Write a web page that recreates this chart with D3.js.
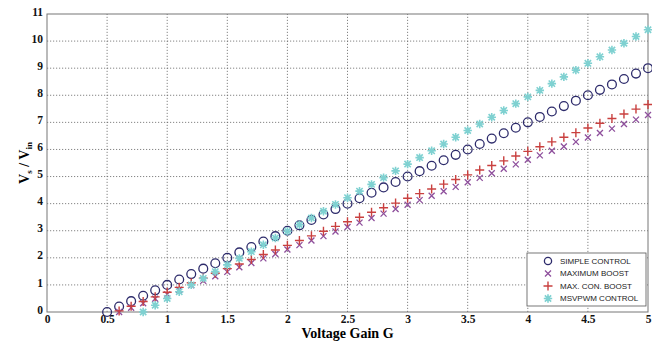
<!DOCTYPE html>
<html>
<head>
<meta charset="utf-8">
<script src="https://d3js.org/d3.v7.min.js"></script>
<style>
  body { margin: 0; background: #fff; }
  svg { display: block; }
  .tick text { font-family: "Liberation Serif", "DejaVu Serif", serif; font-weight: bold; font-size: 11.5px; fill: #111; }
  .legend text { font-family: "Liberation Sans", Arial, sans-serif; font-size: 8px; fill: #222; }
</style>
</head>
<body>
<div id="chart"></div>
<script>
// voltage gain G (x) for each series
var gSimple = [0.5,0.6,0.7,0.8,0.9,1.0,1.1,1.2,1.3,1.4,1.5,1.6,1.7,1.8,1.9,2.0,2.1,2.2,2.3,2.4,2.5,2.6,2.7,2.8,2.9,3.0,3.1,3.2,3.3,3.4,3.5,3.6,3.7,3.8,3.9,4.0,4.1,4.2,4.3,4.4,4.5,4.6,4.7,4.8,4.9,5.0];
var gBoost = [0.6,0.7,0.8,0.9,1.0,1.1,1.2,1.3,1.4,1.5,1.6,1.7,1.8,1.9,2.0,2.1,2.2,2.3,2.4,2.5,2.6,2.7,2.8,2.9,3.0,3.1,3.2,3.3,3.4,3.5,3.6,3.7,3.8,3.9,4.0,4.1,4.2,4.3,4.4,4.5,4.6,4.7,4.8,4.9,5.0];
var gMsv = [0.8,0.9,1.0,1.1,1.2,1.3,1.4,1.5,1.6,1.7,1.8,1.9,2.0,2.1,2.2,2.3,2.4,2.5,2.6,2.7,2.8,2.9,3.0,3.1,3.2,3.3,3.4,3.5,3.6,3.7,3.8,3.9,4.0,4.1,4.2,4.3,4.4,4.5,4.6,4.7,4.8,4.9,5.0];

// Vs/Vin values
var simpleControl = [0,0.2,0.4,0.6,0.8,1.0,1.2,1.4,1.6,1.8,2.0,2.2,2.4,2.6,2.8,3.0,3.2,3.4,3.6,3.8,4.0,4.2,4.4,4.6,4.8,5.0,5.2,5.4,5.6,5.8,6.0,6.2,6.4,6.6,6.8,7.0,7.2,7.4,7.6,7.8,8.0,8.2,8.4,8.6,8.8,9.0];
var maximumBoost = [0,0.16,0.32,0.49,0.65,0.82,0.99,1.15,1.32,1.48,1.65,1.81,1.98,2.14,2.31,2.47,2.64,2.80,2.97,3.14,3.30,3.47,3.63,3.80,3.96,4.13,4.29,4.46,4.62,4.79,4.95,5.12,5.29,5.45,5.62,5.78,5.95,6.11,6.28,6.44,6.61,6.77,6.94,7.10,7.27];
var maxConBoost = [0.04,0.21,0.39,0.56,0.73,0.91,1.08,1.25,1.43,1.60,1.77,1.94,2.12,2.29,2.46,2.64,2.81,2.98,3.16,3.33,3.50,3.68,3.85,4.02,4.20,4.37,4.54,4.72,4.89,5.06,5.24,5.41,5.58,5.76,5.93,6.10,6.28,6.45,6.62,6.79,6.97,7.14,7.31,7.49,7.66];
var msvpwm = [0,0.25,0.5,0.75,1.0,1.24,1.49,1.74,1.98,2.23,2.48,2.73,2.98,3.22,3.47,3.72,3.97,4.22,4.46,4.71,4.96,5.21,5.46,5.70,5.95,6.20,6.45,6.70,6.94,7.19,7.44,7.69,7.94,8.18,8.43,8.68,8.93,9.18,9.42,9.67,9.92,10.17,10.42];

var xTicks = [0,0.5,1,1.5,2,2.5,3,3.5,4,4.5,5];
var yTicks = [0,1,2,3,4,5,6,7,8,9,10,11];
var legendNames = ["SIMPLE CONTROL","MAXIMUM BOOST","MAX. CON. BOOST","MSVPWM CONTROL"];

var width = 652, height = 345;
var margin = {top: 14, right: 4, bottom: 33, left: 47};

var x = d3.scaleLinear().domain([0, 5]).range([margin.left, width - margin.right]);
var y = d3.scaleLinear().domain([0, 11]).range([height - margin.bottom, margin.top]);

var svg = d3.select("#chart").append("svg")
    .attr("width", width)
    .attr("height", height);

// grid
svg.append("g")
    .selectAll("line")
    .data(xTicks.slice(1, -1))
    .enter().append("line")
    .attr("x1", function(d) { return x(d); })
    .attr("x2", function(d) { return x(d); })
    .attr("y1", y(0)).attr("y2", y(11))
    .attr("stroke", "#666").attr("stroke-width", 0.8)
    .attr("stroke-dasharray", "1.2,1.8");

svg.append("g")
    .selectAll("line")
    .data(yTicks.slice(1, -1))
    .enter().append("line")
    .attr("x1", x(0)).attr("x2", x(5))
    .attr("y1", function(d) { return y(d); })
    .attr("y2", function(d) { return y(d); })
    .attr("stroke", "#666").attr("stroke-width", 0.8)
    .attr("stroke-dasharray", "1.2,1.8");

// frame
svg.append("rect")
    .attr("x", x(0)).attr("y", y(11))
    .attr("width", x(5) - x(0)).attr("height", y(0) - y(11))
    .attr("fill", "none").attr("stroke", "#777").attr("stroke-width", 1);

// axes
var xAxis = svg.append("g")
    .attr("transform", "translate(0," + y(0) + ")")
    .call(d3.axisBottom(x).tickValues(xTicks).tickSize(0).tickPadding(3)
      .tickFormat(function(d) { return d; }));
xAxis.select(".domain").remove();

var yAxis = svg.append("g")
    .attr("transform", "translate(" + x(0) + ",0)")
    .call(d3.axisLeft(y).tickValues(yTicks).tickSize(0).tickPadding(4));
yAxis.select(".domain").remove();
yAxis.selectAll(".tick text").attr("dy", "0.1em");

// axis titles
svg.append("text")
    .attr("x", (x(0) + x(5)) / 2)
    .attr("y", 338)
    .attr("text-anchor", "middle")
    .style("font-family", "'Liberation Serif', serif")
    .style("font-weight", "bold")
    .style("font-size", "14px")
    .text("Voltage Gain G");

var yl = svg.append("text")
    .attr("transform", "translate(29," + (y(0) + y(11)) / 2 + ") rotate(-90)")
    .attr("text-anchor", "middle")
    .style("font-family", "'Liberation Serif', serif")
    .style("font-weight", "bold")
    .style("font-size", "14px");
yl.append("tspan").text("V");
yl.append("tspan").attr("dy", 3).style("font-size", "9px").text("s");
yl.append("tspan").attr("dy", -3).text(" / V");
yl.append("tspan").attr("dy", 3).style("font-size", "9px").text("in");

// markers
var colors = ["#2d2b6b", "#8e4f9c", "#c9403f", "#7fd1d1"];

function drawCircle(g, cx, cy, r) {
  g.append("circle").attr("cx", cx).attr("cy", cy).attr("r", r || 4.4)
    .attr("fill", "none").attr("stroke", colors[0]).attr("stroke-width", 1.3);
}
function drawX(g, cx, cy) {
  var s = 3;
  g.append("path")
    .attr("d", "M" + (cx - s) + "," + (cy - s) + "L" + (cx + s) + "," + (cy + s) +
               "M" + (cx - s) + "," + (cy + s) + "L" + (cx + s) + "," + (cy - s))
    .attr("stroke", colors[1]).attr("stroke-width", 1.3);
}
function drawPlus(g, cx, cy) {
  var s = 4.5;
  g.append("path")
    .attr("d", "M" + (cx - s) + "," + cy + "L" + (cx + s) + "," + cy +
               "M" + cx + "," + (cy - s) + "L" + cx + "," + (cy + s))
    .attr("stroke", colors[2]).attr("stroke-width", 1.4);
}
function drawStar(g, cx, cy) {
  var s = 4.2, d = s * 0.75;
  g.append("path")
    .attr("d", "M" + (cx - s) + "," + cy + "L" + (cx + s) + "," + cy +
               "M" + cx + "," + (cy - s) + "L" + cx + "," + (cy + s) +
               "M" + (cx - d) + "," + (cy - d) + "L" + (cx + d) + "," + (cy + d) +
               "M" + (cx - d) + "," + (cy + d) + "L" + (cx + d) + "," + (cy - d))
    .attr("stroke", colors[3]).attr("stroke-width", 1.6);
}

var marks = svg.append("g");
var series = [
  {g: gSimple, v: simpleControl, draw: drawCircle},
  {g: gBoost, v: maximumBoost, draw: drawX},
  {g: gBoost, v: maxConBoost, draw: drawPlus},
  {g: gMsv, v: msvpwm, draw: drawStar}
];
series.forEach(function(s) {
  s.g.forEach(function(gv, i) {
    s.draw(marks, x(gv), y(s.v[i]));
  });
});

// legend
var legend = svg.append("g").attr("class", "legend");
legend.append("rect")
    .attr("x", 527).attr("y", 253).attr("width", 119).attr("height", 53)
    .attr("fill", "#fff").attr("stroke", "#555").attr("stroke-width", 0.8);
var drawers = [drawCircle, drawX, drawPlus, drawStar];
legendNames.forEach(function(name, i) {
  var ly = 261 + i * 12.5;
  if (i === 0) drawCircle(legend, 548, ly, 3.6);
  else drawers[i](legend, 548, ly);
  legend.append("text").attr("x", 560).attr("y", ly + 2.8).text(name);
});
</script>
</body>
</html>
